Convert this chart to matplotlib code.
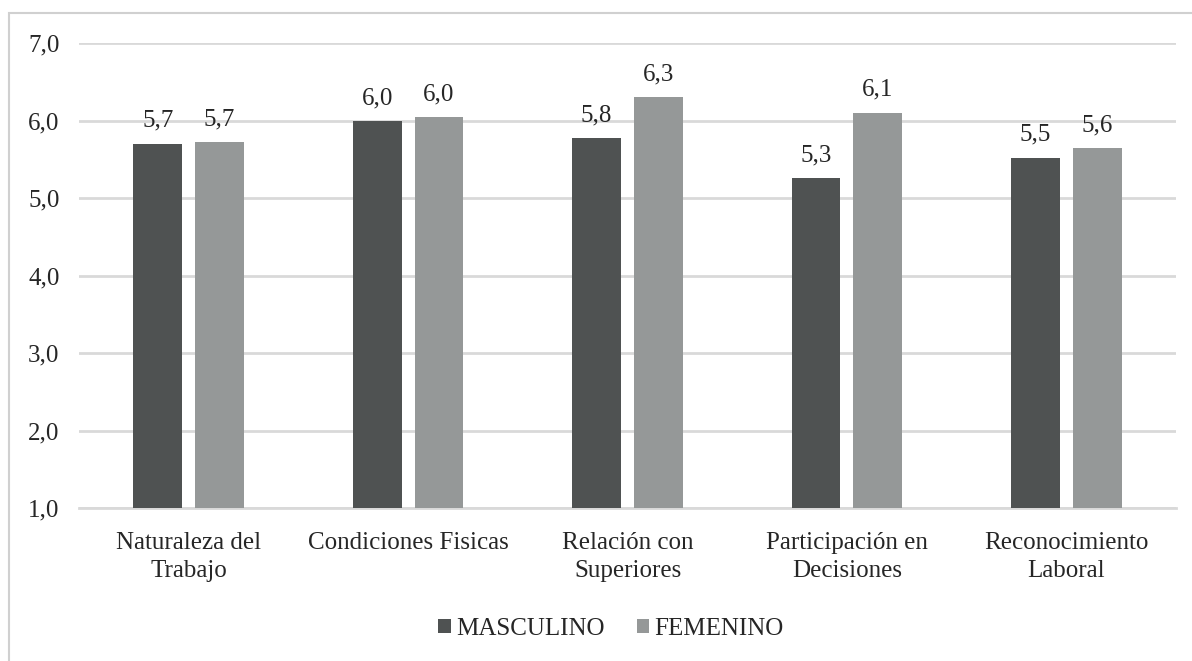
import matplotlib
matplotlib.use("Agg")
import matplotlib.pyplot as plt
import numpy as np
from matplotlib.patches import Rectangle

categories = ["Naturaleza del\nTrabajo", "Condiciones Fisicas", "Relación con\nSuperiores",
              "Participación en\nDecisiones", "Reconocimiento\nLaboral"]
masculino = [5.70, 5.99, 5.77, 5.26, 5.52]
femenino = [5.72, 6.04, 6.30, 6.10, 5.64]
series_names = ["MASCULINO", "FEMENINO"]
yticks = [1.0, 2.0, 3.0, 4.0, 5.0, 6.0, 7.0]

plt.rcParams["font.family"] = ["Liberation Serif", "DejaVu Serif"]
FS = 18
TXT = "#262626"

W, H = 1192, 661
fig = plt.figure(figsize=(W / 100, H / 100), dpi=100)
ax = fig.add_axes([79 / W, 1 - 508 / H, (1176 - 79) / W, (508 - 43) / H])

x = np.arange(len(categories))
bw = 0.223
off = 0.141
c_m, c_f = "#4f5252", "#959898"
b1 = ax.bar(x - off, masculino, bw, bottom=0, color=c_m, label=series_names[0], zorder=3)
b2 = ax.bar(x + off, femenino, bw, bottom=0, color=c_f, label=series_names[1], zorder=3)

for xs, vals in ((x - off, masculino), (x + off, femenino)):
    for xi, v in zip(xs, vals):
        ax.annotate(f"{v:.1f}".replace(".", ","), (xi, v), xytext=(0, 8.5),
                    textcoords="offset points", ha="center", va="bottom",
                    fontsize=FS, color=TXT)

ax.set_xlim(-0.5, len(categories) - 0.5)
ax.set_ylim(1.0, 7.0)
ax.set_yticks(yticks)
ax.set_yticklabels([f"{t:.1f}".replace(".", ",") for t in yticks], fontsize=FS, color=TXT)
ax.set_xticks(x)
ax.set_xticklabels(categories, fontsize=FS, color=TXT, linespacing=1.38)
ax.tick_params(axis="both", length=0)
ax.tick_params(axis="y", pad=14)
ax.tick_params(axis="x", pad=17)
ax.grid(axis="y", color="#d9d9d9", linewidth=2, zorder=0)
for s in ("top", "right", "left"):
    ax.spines[s].set_visible(False)
ax.spines["bottom"].set_color("#d9d9d9")
ax.spines["bottom"].set_linewidth(2)

fig.legend(handles=[b1, b2], loc="center", bbox_to_anchor=(611 / W, 1 - 629 / H), ncol=2,
           frameon=False, fontsize=FS, handlelength=0.5, handleheight=0.5,
           handletextpad=0.2, columnspacing=1.3, labelcolor=TXT)

fig.patches.append(Rectangle((9 / W, -0.1), 1.2, 1 - 13 / H + 0.1, transform=fig.transFigure,
                             fill=False, edgecolor="#d0d0d0", linewidth=1.5))

fig.savefig("out.png", dpi=100)
